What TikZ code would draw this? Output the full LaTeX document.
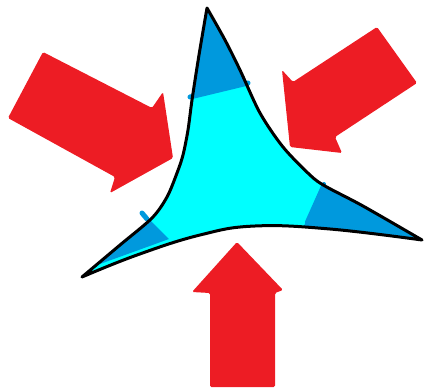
\documentclass[tikz,border=0pt]{standalone}
\begin{document}
\begin{tikzpicture}[x=1pt,y=-1pt,
  redarrow/.style={fill=arrowred, rounded corners=1.5pt},
  edge/.style={draw=black, line width=3pt, line join=round, line cap=round},
  corner/.style={fill=cornerblue},
  cornerline/.style={draw=cornerblue, line width=5pt, line cap=round}]
\definecolor{arrowred}{RGB}{237,28,36}
\definecolor{lightcyan}{RGB}{0,255,255}
\definecolor{cornerblue}{RGB}{0,153,221}
\useasboundingbox (0,0) rectangle (426,389);
\coordinate (T) at (207,8);
\coordinate (L) at (82,277);
\coordinate (R) at (422,240);
\def\trishape{plot[smooth,tension=0.5] coordinates {(207,8) (199,55) (192,100) (188,130) (183,155) (177,173) (167,197) (152,218) (120,245) (82,277)}
  -- plot[smooth,tension=0.7] coordinates {(82,277) (137,255) (200,235) (255,226) (330,229) (422,240)}
  -- plot[smooth,tension=0.5] coordinates {(422,240) (363,206) (325,186) (310,175) (283,147) (260,113) (240,70) (225,40) (207,8)} -- cycle}
% red arrows
\fill[redarrow] (43,52) -- (152,108) -- (163,92) -- (173,158) -- (110,193) -- (115,177) -- (8,118) -- cycle;
\fill[redarrow] (377,27) -- (417,83) -- (335,137) -- (342,153) -- (290,147) -- (282,70) -- (293,82) -- cycle;
\fill[redarrow] (237,242) -- (283,290) -- (275,293) -- (275,387) -- (210,387) -- (210,293) -- (192,292) -- cycle;
% triangle fill
\fill[lightcyan] \trishape;
\begin{scope}
  \clip \trishape;
  \fill[corner] (150,100) -- (190,97) -- (248,83) -- (280,80) -- (207,0) -- cycle;
  \fill[corner] (141,211) -- (169,239) -- (100,264) -- (60,262) -- (100,200) -- cycle;
  \fill[corner] (324,180) -- (304,226) -- (430,252) -- (430,238) -- cycle;
  \draw[cornerline, line width=4pt] (193,70) -- (234,60);
\end{scope}
\draw[cornerline] (190,97) -- (248,83);
\draw[cornerline] (142,213) -- (147,219);
\draw[cornerline, line width=4pt] (324,184) -- (307,222);
\draw[edge] \trishape;
\end{tikzpicture}
\end{document}
